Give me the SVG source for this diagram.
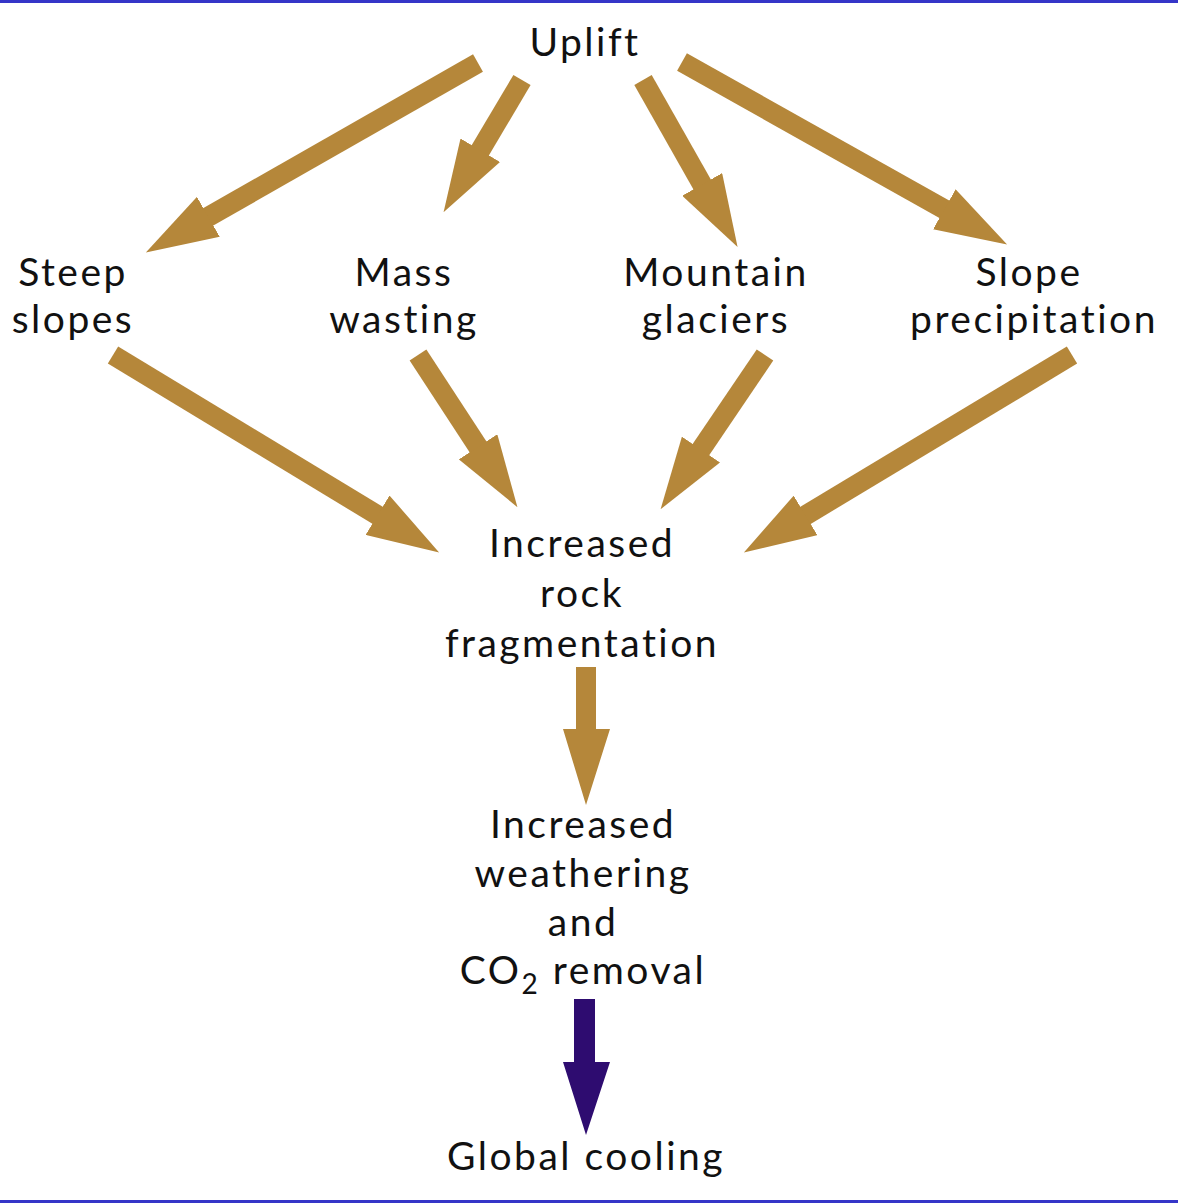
<svg xmlns="http://www.w3.org/2000/svg" width="1178" height="1203" viewBox="0 0 1178 1203">
<defs>
<style>
.t{font-family:Lato,"Open Sans","DejaVu Sans",sans-serif;font-size:39px;fill:#111;text-anchor:middle;letter-spacing:2.5px}
.s{stroke:#b5873a;stroke-width:20;stroke-linecap:butt;fill:none}
.h{fill:#b5873a}
</style>
<marker id="ah" viewBox="0 0 72 46" markerWidth="72" markerHeight="46" markerUnits="userSpaceOnUse" refX="1" refY="23" orient="auto">
<path d="M0,0 L72,23 L0,46 Z" fill="#b5873a"/>
</marker>
</defs>
<rect width="1178" height="1203" fill="#fff"/>
<rect x="0" y="0" width="1178" height="3" fill="#3535c8"/>
<rect x="0" y="1200" width="1178" height="3" fill="#3535c8"/>
<g id="connectors">
<line class="s" x1="478" y1="63" x2="207.5" y2="217.3" marker-end="url(#ah)"/>
<line class="s" x1="522" y1="80" x2="479.8" y2="151.1" marker-end="url(#ah)"/>
<line class="s" x1="643" y1="80" x2="702.6" y2="185.3" marker-end="url(#ah)"/>
<line class="s" x1="682" y1="62" x2="945.2" y2="209.8" marker-end="url(#ah)"/>
<line class="s" x1="113" y1="355" x2="378.4" y2="515.7" marker-end="url(#ah)"/>
<line class="s" x1="418" y1="355" x2="478.6" y2="447.7" marker-end="url(#ah)"/>
<line class="s" x1="765" y1="355" x2="700.4" y2="450.4" marker-end="url(#ah)"/>
<line class="s" x1="1072" y1="355" x2="804.7" y2="515.9" marker-end="url(#ah)"/>
<polygon class="h" points="576,667 596,667 596,729 610,729 586,805 563,729 576,729"/>
<polygon fill="#2e0c70" points="574,999 595,999 595,1062 610,1062 586,1135 563,1062 574,1062"/>
</g>
<g id="uplift"><text class="t" x="585" y="56">Uplift</text></g>
<g id="steep-slopes"><text class="t" x="73" y="286">Steep</text><text class="t" x="73" y="333">slopes</text></g>
<g id="mass-wasting"><text class="t" x="404" y="286">Mass</text><text class="t" x="404" y="333">wasting</text></g>
<g id="mountain-glaciers"><text class="t" x="716" y="286">Mountain</text><text class="t" x="716" y="333">glaciers</text></g>
<g id="slope-precipitation"><text class="t" x="1029" y="286">Slope</text><text class="t" x="1034" y="333">precipitation</text></g>
<g id="rock-fragmentation"><text class="t" x="582" y="557">Increased</text><text class="t" x="582" y="607">rock</text><text class="t" x="582" y="657">fragmentation</text></g>
<g id="weathering"><text class="t" x="583" y="838">Increased</text><text class="t" x="583" y="887">weathering</text><text class="t" x="583" y="936">and</text><text class="t" x="583" y="984">CO<tspan font-size="28" dy="10">2</tspan><tspan dy="-10"> removal</tspan></text></g>
<g id="global-cooling"><text class="t" x="586" y="1170">Global cooling</text></g>
</svg>
